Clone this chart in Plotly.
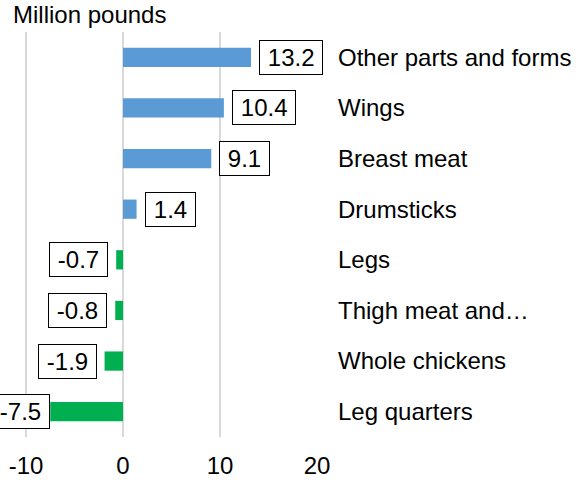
import plotly.graph_objects as go

categories = ["Other parts and forms", "Wings", "Breast meat", "Drumsticks",
              "Legs", "Thigh meat and…", "Whole chickens", "Leg quarters"]
values = [13.2, 10.4, 9.1, 1.4, -0.7, -0.8, -1.9, -7.5]
value_labels = ["13.2", "10.4", "9.1", "1.4", "-0.7", "-0.8", "-1.9", "-7.5"]
x_ticks = [-10, 0, 10, 20]
x_tick_labels = ["-10", "0", "10", "20"]

POS = "#5B9BD5"
NEG = "#00B050"
FONT = "Liberation Sans, Arial, sans-serif"
FS = 24
X_MIN, X_MAX = -12.68, 20

colors = [POS if v >= 0 else NEG for v in values]

fig = go.Figure(go.Bar(
    y=categories, x=values, orientation="h",
    marker=dict(color=colors, line=dict(width=0)),
    width=0.38, hoverinfo="skip",
))

annotations = []
for c, v, t in zip(categories, values, value_labels):
    # labels near the chart's left edge are pulled in against the bar
    near_edge = v < X_MIN * 0.5
    annotations.append(dict(
        x=v, y=c, xref="x", yref="y",
        text="\u2009" + t + "\u2009",
        showarrow=False,
        xanchor="left" if v >= 0 else "right",
        xshift=8 if v >= 0 else (0 if near_edge else -8),
        font=dict(family=FONT, size=FS, color="#000000"),
        bordercolor="#000000", borderwidth=1, borderpad=3,
        bgcolor="#FFFFFF",
    ))

fig.update_layout(
    width=579, height=481,
    margin=dict(l=0, r=262, t=32, b=44),
    paper_bgcolor="white", plot_bgcolor="white",
    showlegend=False,
    font=dict(family=FONT, size=FS, color="#000000"),
    title=dict(text="Million pounds", xref="container", yref="container",
               x=13/579, xanchor="left", y=1-15/481, yanchor="middle",
               font=dict(family=FONT, size=FS, color="#000000")),
    xaxis=dict(range=[X_MIN, X_MAX], tickvals=x_ticks, ticktext=x_tick_labels,
               showgrid=True, gridcolor="#D9D9D9", gridwidth=1.5,
               zeroline=False, showline=False, ticks="",
               ticklabelstandoff=12,
               tickfont=dict(family=FONT, size=FS, color="#000000")),
    yaxis=dict(categoryorder="array", categoryarray=categories,
               autorange="reversed", side="right",
               showgrid=False, zeroline=False, showline=False, ticks="",
               ticklabelstandoff=20,
               tickfont=dict(family=FONT, size=FS, color="#000000")),
    annotations=annotations,
)

fig.write_html("out.html",
               config={"displayModeBar": False},
               post_script="document.body.style.margin='0';document.body.style.overflow='hidden';")
